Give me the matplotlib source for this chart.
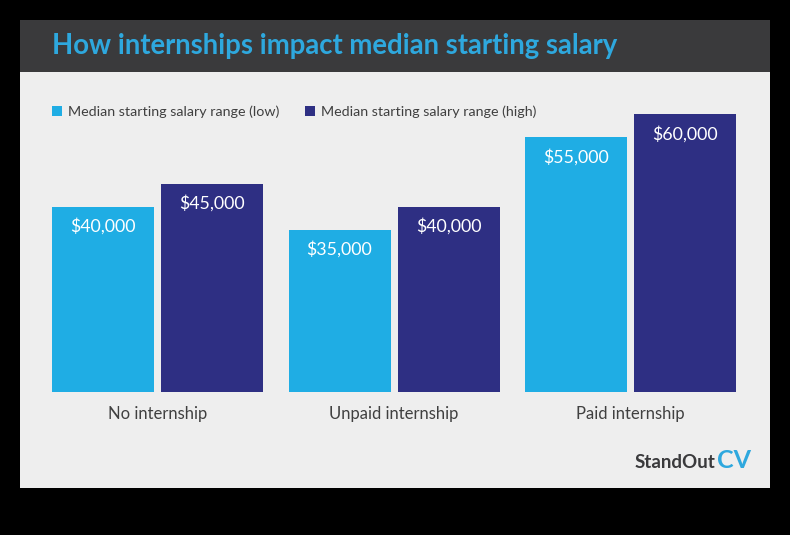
import matplotlib
matplotlib.use("Agg")
import matplotlib.pyplot as plt
from matplotlib.patches import Rectangle
import numpy as np

categories = ["No internship", "Unpaid internship", "Paid internship"]
low_values = [40000, 35000, 55000]
high_values = [45000, 40000, 60000]
series_names = ["Median starting salary range (low)", "Median starting salary range (high)"]
title = "How internships impact median starting salary"

W, H = 790, 535
LIGHT = "#1fade4"
DARK = "#2e2f83"
HEADER = "#3a3a3c"
PANEL = "#eeeeee"
TITLE_C = "#2ea8de"
TEXT_C = "#404040"

plt.rcParams['font.family'] = ['Lato', 'DejaVu Sans']

fig = plt.figure(figsize=(W / 100, H / 100), dpi=100)
fig.patch.set_facecolor("black")

def fx(px):
    return px / W

def fy(py):
    return 1 - py / H

# panel + header
fig.patches.append(Rectangle((fx(20), fy(488)), fx(750), (488 - 20) / H,
                             transform=fig.transFigure, facecolor=PANEL, edgecolor="none", zorder=-2))
fig.patches.append(Rectangle((fx(20), fy(72)), fx(750), (72 - 20) / H,
                             transform=fig.transFigure, facecolor=HEADER, edgecolor="none", zorder=-1))
fig.text(fx(52), fy(46), title, color=TITLE_C, fontsize=19.8, fontweight="bold",
         va="center", ha="left")

# bar axes
ax = fig.add_axes([fx(20), fy(392), fx(750), (392 - 72) / H])
ax.set_zorder(5)
ax.set_facecolor("none")
px_per_unit = 236.5
ax.set_xlim(-(157.5 - 20) / px_per_unit, (770 - 157.5) / px_per_unit)
ax.set_ylim(0, 320 / 4.63 * 1000)
x = np.arange(len(categories))
bw = 102 / px_per_unit
off = 54.5 / px_per_unit
b1 = ax.bar(x - off, low_values, bw, color=LIGHT)
b2 = ax.bar(x + off, high_values, bw, color=DARK)
for bars in (b1, b2):
    for r in bars:
        v = r.get_height()
        ax.annotate(f"${v:,.0f}", (r.get_x() + r.get_width() / 2, v),
                    xytext=(0, -19.5 * 0.72), textcoords="offset points",
                    ha="center", va="center", color="white", fontsize=12.8)
ax.set_xticks(x)
ax.set_xticklabels(categories, fontsize=12, color=TEXT_C)
ax.tick_params(axis="x", length=0, pad=10)
ax.set_yticks([])
for s in ax.spines.values():
    s.set_visible(False)

# legend
for sx, name, col in [(52, series_names[0], LIGHT), (305, series_names[1], DARK)]:
    fig.patches.append(Rectangle((fx(sx), fy(116)), 10 / W, 10 / H,
                                 transform=fig.transFigure, facecolor=col, edgecolor="none"))
    fig.text(fx(sx + 16), fy(111.5), name, fontsize=10.3, color=TEXT_C, va="center", ha="left")

# logo
fig.text(fx(715), fy(462), "StandOut", fontsize=13.5, fontweight="bold", color="#3a3a3c",
         ha="right", va="center")
fig.text(fx(717), fy(460), "CV", fontsize=18, fontweight="bold", color=TITLE_C,
         ha="left", va="center")

fig.savefig("out.png", dpi=100, facecolor=fig.get_facecolor())
